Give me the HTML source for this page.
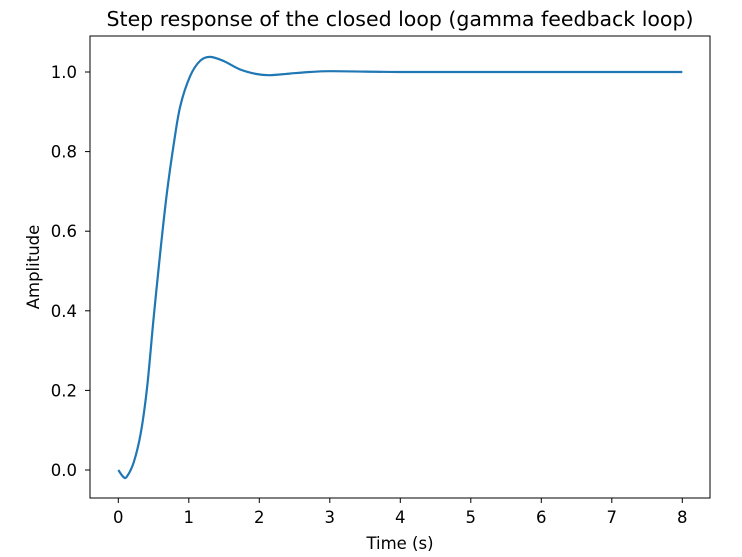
<!DOCTYPE html>
<html><head><meta charset="utf-8"><style>
body{margin:0;background:#fff;}
svg{display:block;font-family:"DejaVu Sans","Liberation Sans",sans-serif;}
</style></head><body>
<svg id="chart" width="742" height="557">
<rect width="742" height="557" fill="#fff"/>
<text x="400" y="26" text-anchor="middle" font-size="20.5" fill="#000">Step response of the closed loop (gamma feedback loop)</text>
<g id="axes"></g>
<text x="400" y="549" text-anchor="middle" font-size="16.5">Time (s)</text>
<text transform="translate(39,267) rotate(-90)" text-anchor="middle" font-size="16.5">Amplitude</text>
</svg>
<script>
const times=[0,0.07,0.12,0.22,0.32,0.41,0.5,0.6,0.69,0.79,0.88,1.02,1.16,1.3,1.49,1.72,1.96,2.15,2.43,2.72,3.0,3.5,4,5,6,7,8];
const amplitude=[0,-0.017,-0.017,0.02,0.094,0.21,0.38,0.555,0.697,0.823,0.915,0.99,1.028,1.038,1.028,1.007,0.995,0.992,0.996,1.0,1.002,1.001,1.0,1.0,1.0,1.0,1.0];
const xTicks=[0,1,2,3,4,5,6,7,8];
const yTicks=[0.0,0.2,0.4,0.6,0.8,1.0];
const L=90,R=710,T=36,B=498;
const sx=t=>118.3+t*70.5;
const sy=v=>470-v*398;
const NS="http://www.w3.org/2000/svg";
const g=document.getElementById('axes');
function mk(tag,attrs){const e=document.createElementNS(NS,tag);for(const k in attrs)e.setAttribute(k,attrs[k]);g.appendChild(e);return e;}
const frame=mk('rect',{x:L,y:T,width:R-L,height:B-T,fill:'none',stroke:'#000','stroke-width':1});


xTicks.forEach(t=>{
 const l=mk('line',{x1:sx(t),x2:sx(t),y1:B,y2:B+5,stroke:'#000'});
 
 
 const tx=mk('text',{x:sx(t),y:B+25,'text-anchor':'middle','font-size':16.5});
 tx.textContent=t;
 
 
});
yTicks.forEach(v=>{
 const l=mk('line',{x1:L-5,x2:L,y1:sy(v),y2:sy(v),stroke:'#000'});
 
 
 const tx=mk('text',{x:L-13,y:sy(v)+6,'text-anchor':'end','font-size':16.5});
 tx.textContent=v.toFixed(1);
 
 
});
const pts=times.map((t,i)=>[sx(t),sy(amplitude[i])]);
let d=`M${pts[0][0]},${pts[0][1]}`;
for(let i=0;i<pts.length-1;i++){
 const p0=pts[i-1]||pts[i],p1=pts[i],p2=pts[i+1],p3=pts[i+2]||p2;
 const c1=[p1[0]+(p2[0]-p0[0])/6,p1[1]+(p2[1]-p0[1])/6];
 const c2=[p2[0]-(p3[0]-p1[0])/6,p2[1]-(p3[1]-p1[1])/6];
 d+=` C${c1[0]},${c1[1]} ${c2[0]},${c2[1]} ${p2[0]},${p2[1]}`;
}
const line=mk('path',{d:d,fill:'none',stroke:'#1f77b4','stroke-width':2.2});


</script>
</body></html>
